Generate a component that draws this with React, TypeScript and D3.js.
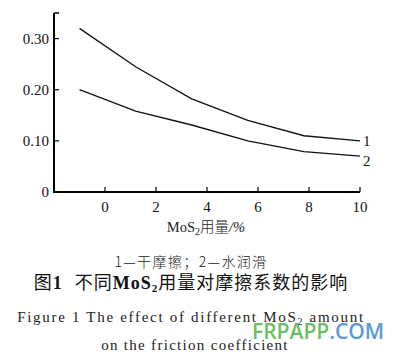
import React from "react";
import * as d3 from "d3";

const xValues = [-1, 1.2, 3.4, 5.6, 7.8, 10];
const seriesDry = [0.32, 0.245, 0.182, 0.14, 0.11, 0.1];
const seriesWater = [0.2, 0.158, 0.131, 0.1, 0.079, 0.07];
const seriesLabels = ["1", "2"];
const xTicks = [0, 2, 4, 6, 8, 10];
const yTicks = [0, 0.1, 0.2, 0.3];
const yTickLabels = ["0", "0.10", "0.20", "0.30"];

export default function App() {
  const W = 405, H = 357;
  const x = d3.scaleLinear().domain([-2, 10]).range([54, 360]);
  const y = d3.scaleLinear().domain([0, 0.35]).range([192, 13]);
  const line = d3.line<number>().x((_, i) => x(xValues[i])).y((d) => y(d));
  const serif = "'Liberation Serif', 'DejaVu Serif', serif";
  const cjk = "'Noto Sans CJK SC', sans-serif";
  const series = [seriesDry, seriesWater];
  return (
    <svg width={W} height={H} style={{ position: "absolute", left: 0, top: 0, background: "#fff" }}>
      <rect width={W} height={H} fill="#fff" />
      <line x1={x(-2)} x2={x(-2)} y1={y(0.35)} y2={y(0) + 1} stroke="#000" strokeWidth={2} />
      <line x1={x(-2) - 1} x2={x(10)} y1={y(0)} y2={y(0)} stroke="#000" strokeWidth={2} />
      <line x1={x(-2)} x2={x(-2) + 5} y1={y(0.35)} y2={y(0.35)} stroke="#000" strokeWidth={1.5} />
      {yTicks.map((t, i) => (
        <g key={"y" + i}>
          {t > 0 && <line x1={x(-2)} x2={x(-2) + 5} y1={y(t)} y2={y(t)} stroke="#000" strokeWidth={1.2} />}
          <text x={x(-2) - 5} y={y(t)} dy="0.35em" textAnchor="end" fontFamily={serif} fontSize={15} fill="#111">
            {yTickLabels[i]}
          </text>
        </g>
      ))}
      {xTicks.map((t) => (
        <g key={"x" + t}>
          <line x1={x(t)} x2={x(t)} y1={y(0)} y2={y(0) - 5} stroke="#000" strokeWidth={1.2} />
          <text x={x(t)} y={212} textAnchor="middle" fontFamily={serif} fontSize={15} fill="#111">
            {t}
          </text>
        </g>
      ))}
      {series.map((s, i) => (
        <g key={"s" + i}>
          <path d={line(s) || ""} fill="none" stroke="#111" strokeWidth={1.3} />
          <text x={x(10) + 3} y={y(s[s.length - 1]) + (i === 0 ? 0 : 5)} dy="0.35em" fontFamily={serif} fontSize={15} fill="#111">
            {seriesLabels[i]}
          </text>
        </g>
      ))}
      <text x={206} y={232} textAnchor="middle" fontSize={14.5} fill="#222">
        <tspan fontFamily={serif}>MoS</tspan>
        <tspan fontFamily={serif} fontSize={10} dy={3}>2</tspan>
        <tspan fontFamily={cjk} dy={-3} fontWeight={300}>用量</tspan>
        <tspan fontFamily={serif} fontStyle="italic">/%</tspan>
      </text>
      <text x={191} y={267} textAnchor="middle" fontFamily={cjk} fontSize={14} fontWeight={300} letterSpacing={1.4} fill="#222">
        1—干摩擦；2—水润滑
      </text>
      <text x={191} y={289} textAnchor="middle" fontSize={18} fill="#111" letterSpacing={1}>
        <tspan fontFamily={cjk}>图</tspan>
        <tspan fontFamily={serif} fontWeight="bold">1</tspan>
        <tspan fontFamily={cjk} dx={12}>不同</tspan>
        <tspan fontFamily={serif} fontWeight="bold">MoS</tspan>
        <tspan fontFamily={serif} fontWeight="bold" fontSize={11} dy={3}>2</tspan>
        <tspan fontFamily={cjk} dy={-3}>用量对摩擦系数的影响</tspan>
      </text>
      <text x={191} y={322} textAnchor="middle" fontFamily={serif} fontSize={15} fill="#222" letterSpacing={1.7}>
        <tspan>Figure 1   The effect of different MoS</tspan>
        <tspan fontSize={10} dy={3}>2</tspan>
        <tspan dy={-3}> amount</tspan>
      </text>
      <text x={195} y={350} textAnchor="middle" fontFamily={serif} fontSize={15} fill="#222" letterSpacing={1.3}>
        on the friction coefficient
      </text>
      <text x={252} y={339} fontFamily="'Open Sans', 'Noto Sans', sans-serif" fontSize={21} fontWeight={600}>
        <tspan fill="#6dbf67">FRPAPP</tspan>
        <tspan fill="#5b9bd5">.COM</tspan>
      </text>
    </svg>
  );
}
